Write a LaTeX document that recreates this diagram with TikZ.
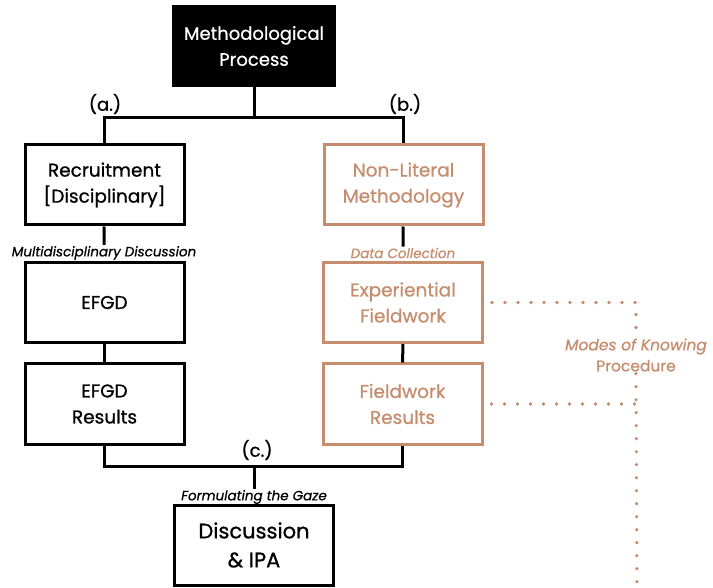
\documentclass[tikz,border=0pt]{standalone}
\usepackage{fontspec}
\setmainfont{Poppins}[FakeBold=0.8]
\usetikzlibrary{positioning,calc}
\definecolor{Tan}{RGB}{197,141,110}

\begin{document}
\begin{tikzpicture}[x=1pt,y=-1pt,
	box/.style={draw=black,line width=3pt,minimum width=159pt,minimum height=80pt,align=center,inner sep=0pt,font=\fontsize{18.5}{26}\selectfont},
	tanbox/.style={box,draw=Tan,text=Tan},
	lab/.style={font=\fontsize{18}{20}\selectfont,inner sep=0pt},
	note/.style={font=\itshape\fontsize{13.5}{16}\selectfont,inner sep=1pt},
	link/.style={line width=3pt},
	dots/.style={Tan,line width=3.6pt,line cap=round,dash pattern=on 0pt off 13pt}]
\useasboundingbox (0,0) rectangle (713,588);

% top of the process
\node[box,fill=black,text=white,minimum width=161pt,minimum height=79pt,font=\fontsize{18}{26}\selectfont] (proc) at (254,46) {Methodological\\Process};
\coordinate (ab) at (254,118);
\node[lab] (a) at (105,104) {(a.)};
\node[lab] (b) at (405,104) {(b.)};

% left branch
\node[box] (recr) at (104.5,185) {Recruitment\\{[Disciplinary]}};
\node[note] (mdisc) at (104,253) {Multidisciplinary Discussion};
\node[box] (efgd) at (104.5,302.5) {EFGD};
\node[box] (efgdres) at (104.5,404) {EFGD\\Results};

% right branch
\node[tanbox] (nonlit) at (403.5,185) {Non-Literal\\Methodology};
\node[note,Tan] (dcoll) at (403,253) {Data Collection};
\node[tanbox] (expf) at (403,302.5) {Experiential\\Fieldwork};
\node[tanbox] (fieldres) at (402.5,404) {Fieldwork\\Results};

% bottom
\coordinate (c) at (254,466);
\node[lab] (clab) at (257,450) {(c.)};
\node[note] (gaze) at (254,497) {Formulating the Gaze};
\node[box,font=\fontsize{21}{29}\selectfont] (disc) at (254,545) {Discussion\\\& IPA};

% modes of knowing
\node[Tan,align=center,font=\fontsize{15.5}{21}\selectfont,inner sep=2pt] (modes) at (636,355) {\textit{Modes of Knowing}\\Procedure};
\coordinate (dotend) at (637,590);

\draw[link] (proc) -- (ab);
\draw[link] (recr.north) |- (ab) -| (nonlit.north);
\draw[link] (recr) -- (mdisc);
\draw[link] (nonlit) -- (dcoll);
\draw[link] (efgd) -- (efgdres);
\draw[link] (expf) -- (fieldres);
\draw[link] (efgdres.south) |- (c) -| (fieldres.south);
\draw[link] (c) -- (gaze);

\draw[dots] ($(expf.east)+(8,0)$) -| (modes.north);
\draw[dots] ($(fieldres.east)+(8,0)$) -- (modes.south |- fieldres.east);
\draw[dots] (modes.south) -- (dotend);
\end{tikzpicture}
\end{document}
